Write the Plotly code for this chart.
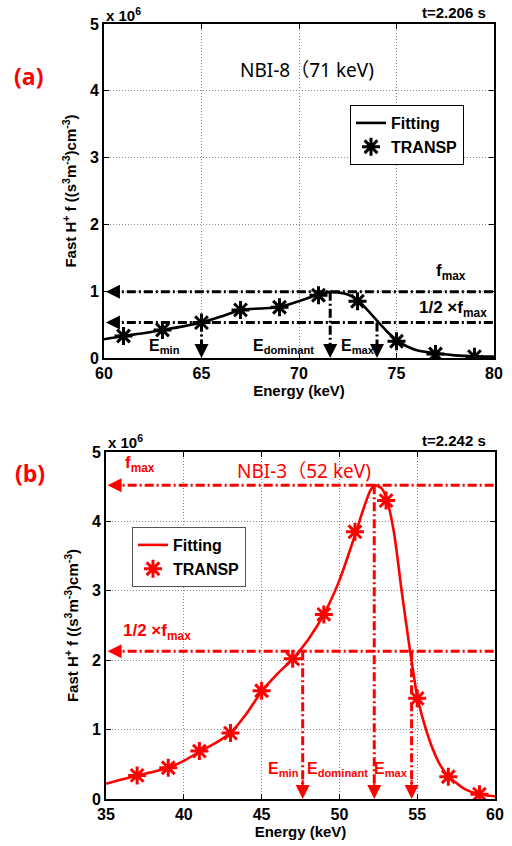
import plotly.graph_objects as go

# ---- Panel (a): NBI-8, 71 keV, t = 2.206 s (values in units of 1e6) ----
fit_a_E = [60, 61, 62, 63, 64, 65, 66, 67, 68, 69, 70, 71, 71.6, 72, 72.5, 73, 73.5, 74, 74.5, 75, 75.5, 76, 77, 78, 79, 80]
fit_a_f = [0.28, 0.33, 0.37, 0.42, 0.47, 0.53, 0.62, 0.72, 0.74, 0.76, 0.85, 0.95, 0.99, 0.98, 0.95, 0.87, 0.72, 0.56, 0.40, 0.27, 0.18, 0.12, 0.07, 0.04, 0.025, 0.02]
transp_a_E = [61, 63, 65, 67, 69, 71, 73, 75, 77, 79]
transp_a_f = [0.33, 0.42, 0.53, 0.72, 0.76, 0.94, 0.85, 0.25, 0.06, 0.02]
fmax_a, half_a = 0.99, 0.53
emin_a, edom_a, emax_a = 65.0, 71.6, 74.0

# ---- Panel (b): NBI-3, 52 keV, t = 2.242 s ----
fit_b_E = [35, 36, 37, 38, 39, 40, 41, 42, 43, 44, 45, 46, 47, 48, 49, 50, 51, 51.5, 52, 52.3, 52.7, 53, 53.5, 54, 54.5, 55, 55.5, 56, 56.5, 57, 58, 59, 60]
fit_b_f = [0.22, 0.28, 0.34, 0.39, 0.45, 0.55, 0.68, 0.80, 0.95, 1.22, 1.55, 1.80, 2.02, 2.30, 2.66, 3.15, 3.80, 4.15, 4.45, 4.52, 4.48, 4.35, 3.85, 3.00, 2.20, 1.48, 1.05, 0.72, 0.48, 0.33, 0.15, 0.07, 0.04]
transp_b_E = [37, 39, 41, 43, 45, 47, 49, 51, 53, 55, 57, 59]
transp_b_f = [0.34, 0.45, 0.69, 0.95, 1.56, 2.02, 2.66, 3.85, 4.30, 1.45, 0.32, 0.07]
fmax_b, half_b = 4.52, 2.13
emin_b, edom_b, emax_b = 47.64, 52.24, 54.64

x_ticks_a = [60, 65, 70, 75, 80]
x_ticks_b = [35, 40, 45, 50, 55, 60]
y_ticks = [0, 1, 2, 3, 4, 5]

W, H = 512, 846
BLACK = "#000000"
RED = "#ff0000"
ARIAL = "Arial, Liberation Sans, sans-serif"
DASHDOT = "9px,3px,2px,3px"

fig = go.Figure()

def add_panel(xa, ya, legend, color, fitE, fitF, tE, tF):
    fig.add_trace(go.Scatter(
        x=fitE, y=fitF, mode="lines", name="<b>Fitting</b>",
        line=dict(color=color, width=2.6, shape="spline", smoothing=0.6),
        xaxis=xa, yaxis=ya, legend=legend))
    fig.add_trace(go.Scatter(
        x=tE, y=tF, mode="markers", name="<b>TRANSP</b>",
        marker=dict(symbol="asterisk-open", size=15, color=color,
                    line=dict(color=color, width=3)),
        xaxis=xa, yaxis=ya, legend=legend))

def guide(xa, ya, xs, ys, color):
    fig.add_trace(go.Scatter(
        x=xs, y=ys, mode="lines", showlegend=False, hoverinfo="skip",
        line=dict(color=color, width=3, dash=DASHDOT),
        xaxis=xa, yaxis=ya))

def arrow(xr, yr, x, y, ax, ay, color):
    fig.add_annotation(xref=xr, yref=yr, axref=xr, ayref=yr,
                       x=x, y=y, ax=ax, ay=ay, text="", showarrow=True,
                       arrowhead=2, arrowsize=1.4, arrowwidth=2, arrowcolor=color)

def label(xr, yr, x, y, text, color, size=16, bold=True, family=ARIAL):
    if bold:
        text = "<b>" + text + "</b>"
    fig.add_annotation(xref=xr, yref=yr, x=x, y=y, text=text, showarrow=False,
                       font=dict(family=family, size=size, color=color))

# panel (a)
add_panel("x", "y", "legend", BLACK, fit_a_E, fit_a_f, transp_a_E, transp_a_f)
guide("x", "y", [60.3, 80], [fmax_a, fmax_a], BLACK)
guide("x", "y", [60.3, 80], [half_a, half_a], BLACK)
guide("x", "y", [emin_a, emin_a], [half_a, 0.1], BLACK)
guide("x", "y", [edom_a, edom_a], [fmax_a, 0.1], BLACK)
guide("x", "y", [emax_a, emax_a], [half_a, 0.1], BLACK)
arrow("x", "y", 60.1, fmax_a, 60.9, fmax_a, BLACK)
arrow("x", "y", 60.1, half_a, 60.9, half_a, BLACK)
for e in (emin_a, edom_a, emax_a):
    arrow("x", "y", e, 0.0, e, 0.2, BLACK)

# panel (b)
add_panel("x2", "y2", "legend2", RED, fit_b_E, fit_b_f, transp_b_E, transp_b_f)
guide("x2", "y2", [35.3, 60], [fmax_b, fmax_b], RED)
guide("x2", "y2", [35.3, 60], [half_b, half_b], RED)
guide("x2", "y2", [emin_b, emin_b], [half_b, 0.15], RED)
guide("x2", "y2", [edom_b, edom_b], [fmax_b, 0.15], RED)
guide("x2", "y2", [emax_b, emax_b], [half_b, 0.15], RED)
arrow("x2", "y2", 35.1, fmax_b, 36.1, fmax_b, RED)
arrow("x2", "y2", 35.1, half_b, 36.1, half_b, RED)
for e in (emin_b, edom_b, emax_b):
    arrow("x2", "y2", e, 0.0, e, 0.3, RED)

# text labels, panel (a)
label("x", "y", 70.4, 4.31, "NBI-8（71 keV)", BLACK, size=19, bold=False,
      family="Noto Sans, Noto Sans CJK SC, sans-serif")
label("x", "y", 63.1, 0.17, "E<sub>min</sub>", BLACK)
label("x", "y", 69.2, 0.17, "E<sub>dominant</sub>", BLACK)
label("x", "y", 73.0, 0.17, "E<sub>max</sub>", BLACK)
label("x", "y", 77.8, 1.29, "f<sub>max</sub>", BLACK, size=17)
label("x", "y", 77.9, 0.74, "1/2 ×f<sub>max</sub>", BLACK, size=17)

# text labels, panel (b)
label("x2", "y2", 47.7, 4.73, "NBI-3（52 keV)", RED, size=19, bold=False,
      family="Noto Sans, Noto Sans CJK SC, sans-serif")
label("x2", "y2", 37.2, 4.82, "f<sub>max</sub>", RED, size=17)
label("x2", "y2", 38.3, 2.40, "1/2 ×f<sub>max</sub>", RED, size=17)
label("x2", "y2", 46.4, 0.42, "E<sub>min</sub>", RED)
label("x2", "y2", 49.9, 0.42, "E<sub>dominant</sub>", RED)
label("x2", "y2", 53.3, 0.42, "E<sub>max</sub>", RED)

# paper-level texts
def paper_text(x, y, text, size, color, xanchor="center", family=ARIAL):
    fig.add_annotation(xref="paper", yref="paper", x=x / W, y=1 - y / H,
                       text=text, showarrow=False, xanchor=xanchor, yanchor="middle",
                       font=dict(family=family, size=size, color=color))

paper_text(28, 76, "<b>(a)</b>", 23, RED, family="Open Sans, Lato, sans-serif")
paper_text(30, 473, "<b>(b)</b>", 23, RED, family="Open Sans, Lato, sans-serif")
paper_text(488, 13, "<b>t=2.206 s</b>", 15, BLACK, xanchor="right")
paper_text(488, 440, "<b>t=2.242 s</b>", 15, BLACK, xanchor="right")
paper_text(104, 14, "<b>x 10<sup>6</sup></b>", 15, BLACK, xanchor="left")
paper_text(106, 441, "<b>x 10<sup>6</sup></b>", 15, BLACK, xanchor="left")

axis_common = dict(
    showline=True, linecolor=BLACK, linewidth=1.6, mirror="ticks",
    ticks="inside", ticklen=5, tickcolor=BLACK, automargin=False,
    showgrid=True, gridcolor="#8a8a8a", griddash="1px,2px", gridwidth=1,
    zeroline=False,
    tickfont=dict(family=ARIAL, size=16, color=BLACK),
)
ytitle = "<b>Fast H<sup>+</sup> f ((s<sup>3</sup>m<sup>-3</sup>)cm<sup>-3</sup>)</b>"
xtitle = "<b>Energy (keV)</b>"
title_font = dict(family=ARIAL, size=15, color=BLACK)


def bold(vals):
    return ["<b>%d</b>" % v for v in vals]


legend_common = dict(xanchor="left", yanchor="top", bgcolor="white", borderwidth=1,
                     font=dict(family=ARIAL, size=16, color=BLACK),
                     tracegroupgap=0, itemwidth=30)

fig.update_layout(
    width=W, height=H, margin=dict(l=0, r=0, t=0, b=0, autoexpand=False),
    paper_bgcolor="white", plot_bgcolor="white",
    xaxis=dict(axis_common, domain=[104 / W, 494 / W], anchor="y", range=[60, 80],
               tickvals=x_ticks_a, ticktext=bold(x_ticks_a),
               title=dict(text=xtitle, font=title_font, standoff=2)),
    yaxis=dict(axis_common, domain=[1 - 358 / H, 1 - 24 / H], anchor="x", range=[0, 5],
               tickvals=y_ticks, ticktext=bold(y_ticks),
               title=dict(text=ytitle, font=title_font, standoff=10)),
    xaxis2=dict(axis_common, domain=[106 / W, 495 / W], anchor="y2", range=[35, 60],
                tickvals=x_ticks_b, ticktext=bold(x_ticks_b),
                title=dict(text=xtitle, font=title_font, standoff=2)),
    yaxis2=dict(axis_common, domain=[1 - 799 / H, 1 - 452 / H], anchor="x2", range=[0, 5],
                tickvals=y_ticks, ticktext=bold(y_ticks),
                title=dict(text=ytitle, font=title_font, standoff=10)),
    legend=dict(legend_common, x=350 / W, y=1 - 105 / H, bordercolor=BLACK),
    legend2=dict(legend_common, x=132 / W, y=1 - 527 / H, bordercolor="#555555"),
    showlegend=True,
)

fig.write_html("out.html")
